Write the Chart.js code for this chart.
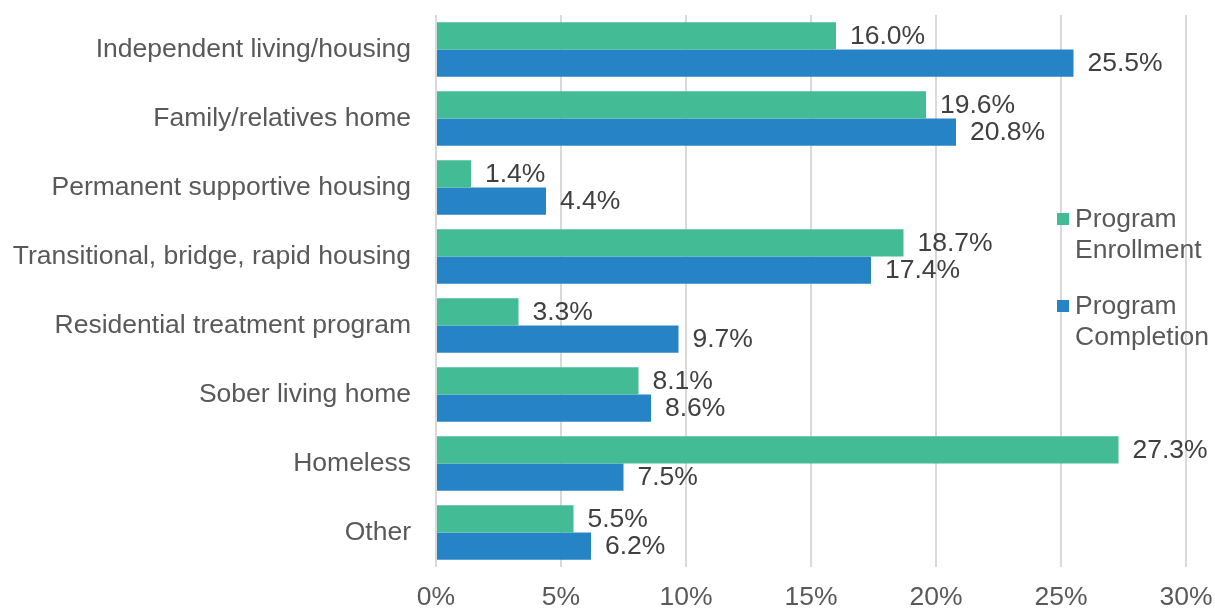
<!DOCTYPE html>
<html>
<head>
<meta charset="utf-8">
<script src="https://cdn.jsdelivr.net/npm/chart.js@4"></script>
<style>
  html, body { margin: 0; padding: 0; background: #fff; }
  #wrap { width: 1215px; height: 612px; position: relative; }
</style>
</head>
<body>
<div id="wrap"><canvas id="chart"></canvas></div>
<script>
// ── Data ──────────────────────────────────────────────────────────────
const categories = [
  'Independent living/housing',
  'Family/relatives home',
  'Permanent supportive housing',
  'Transitional, bridge, rapid housing',
  'Residential treatment program',
  'Sober living home',
  'Homeless',
  'Other'
];
const enrollment = [16.0, 19.6, 1.4, 18.7, 3.3, 8.1, 27.3, 5.5];
const completion = [25.5, 20.8, 4.4, 17.4, 9.7, 8.6, 7.5, 6.2];
const seriesNames = [['Program', 'Enrollment'], ['Program', 'Completion']];
const xTicks = [0, 5, 10, 15, 20, 25, 30];

const GREEN = '#43bb95';
const BLUE = '#2683c6';
const FONT = '"Liberation Sans", Arial, sans-serif';
const FSIZE = 26.5;

// ── Value labels at bar ends ──────────────────────────────────────────
const valueLabels = {
  id: 'valueLabels',
  afterDatasetsDraw(chart) {
    const ctx = chart.ctx;
    ctx.save();
    ctx.font = FSIZE + 'px ' + FONT;
    ctx.fillStyle = '#404040';
    ctx.textAlign = 'left';
    ctx.textBaseline = 'middle';
    chart.data.datasets.forEach((ds, i) => {
      chart.getDatasetMeta(i).data.forEach((bar, j) => {
        ctx.fillText(ds.data[j].toFixed(1) + '%', bar.x + 14, bar.y + 1);
      });
    });
    ctx.restore();
  }
};

// ── Legend drawn inside the plot, right side ─────────────────────────
const sideLegend = {
  id: 'sideLegend',
  afterDraw(chart) {
    const ctx = chart.ctx;
    const colors = [GREEN, BLUE];
    const tops = [219, 306];
    ctx.save();
    ctx.font = FSIZE + 'px ' + FONT;
    ctx.textBaseline = 'middle';
    ctx.textAlign = 'left';
    seriesNames.forEach((lines, i) => {
      ctx.fillStyle = colors[i];
      ctx.fillRect(1057, tops[i] - 6, 12, 12);
      ctx.fillStyle = '#595959';
      lines.forEach((t, k) => ctx.fillText(t, 1075, tops[i] + 1 + k * 31));
    });
    ctx.restore();
  }
};

new Chart(document.getElementById('chart'), {
  type: 'bar',
  data: {
    labels: categories,
    datasets: [
      { label: 'Program Enrollment', data: enrollment, backgroundColor: GREEN },
      { label: 'Program Completion', data: completion, backgroundColor: BLUE }
    ]
  },
  options: {
    indexAxis: 'y',
    responsive: true,
    maintainAspectRatio: false,
    animation: false,
    categoryPercentage: 0.79,
    barPercentage: 1.0,
    layout: { padding: { top: 15, right: 29, left: 0, bottom: 0 } },
    plugins: { legend: { display: false }, tooltip: { enabled: false } },
    scales: {
      x: {
        min: 0,
        max: 30,
        afterBuildTicks(scale) { scale.ticks = xTicks.map(v => ({ value: v })); },
        afterFit(scale) {
          scale.height = 45;
          scale.paddingLeft = 0; scale.paddingRight = 0;
        },
        ticks: {
          color: '#595959',
          font: { family: FONT, size: FSIZE },
          padding: 15,
          callback: v => v + '%'
        },
        grid: { color: '#d9d9d9', lineWidth: 2, drawTicks: false },
        border: { display: false }
      },
      y: {
        afterFit(scale) {
          scale.width = 436;
          scale.paddingTop = 0; scale.paddingBottom = 0;
        },
        ticks: {
          color: '#595959',
          font: { family: FONT, size: FSIZE },
          padding: 25
        },
        grid: { display: false, drawTicks: false },
        border: { display: false }
      }
    }
  },
  plugins: [valueLabels, sideLegend]
});
</script>
</body>
</html>
